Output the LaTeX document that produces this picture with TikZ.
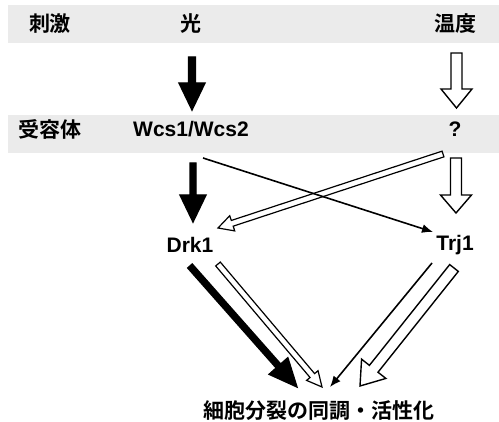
\documentclass[tikz,border=0pt]{standalone}
\usepackage{fontspec}
\setmainfont{Liberation Sans}
\newfontfamily\cjk{Noto Sans CJK JP}[BoldFont={Noto Sans CJK JP Bold}]
\usetikzlibrary{calc,arrows.meta}

\definecolor{bandgray}{RGB}{235,235,235}

% block arrow: [options]{from}{to}{shaft half width}{head half width}{head length}
\newcommand{\blockarrow}[6][]{%
  \coordinate (hb) at ($(#3)!#6!(#2)$);
  \draw[line width=1.4pt, line join=miter, #1]
    ($(#2)!#4!90:(#3)$) -- ($(hb)!#4!90:(#3)$) -- ($(hb)!#5!90:(#3)$) -- (#3)
    -- ($(hb)!#5!-90:(#3)$) -- ($(hb)!#4!-90:(#3)$) -- ($(#2)!#4!-90:(#3)$) -- cycle;
}

\begin{document}
\begin{tikzpicture}[
    x=1pt, y=-1pt,
    lbl/.style={inner sep=0pt, font=\bfseries\fontsize{21}{25}\selectfont},
    jp/.style={inner sep=0pt, font=\cjk\bfseries\fontsize{21}{25}\selectfont},
    thin/.style={line width=1.6pt, -{Latex[length=11pt,width=9pt]}},
    solid/.style={draw=black, fill=black}
]
\useasboundingbox (0,0) rectangle (499,422);

% Bands
\fill[bandgray] (8,5) rectangle (499,43);
\fill[bandgray] (8,115) rectangle (499,153);

% Stimulus row
\node[jp] (stim) at (50,24) {刺激};
\node[jp] (light) at (191,24) {光};
\node[jp] (temp) at (455,24) {温度};

% Receptor row
\node[jp] (rec) at (50,129) {受容体};
\node[lbl] (wcs) at (191,129) {Wcs1/Wcs2};
\node[lbl] (unk) at (455,129) {?};

% Kinases
\node[lbl] (drk) at (190,245) {Drk1};
\node[lbl] (trj) at (455,245) {Trj1};

% Output
\node[jp] (out) at (319,411) {細胞分裂の同調・活性化};

% Arrow ends
\coordinate (l1) at ($(light)+(1,33)$);
\coordinate (l2) at ($(wcs)+(1,-19)$);
\coordinate (t1) at ($(temp)+(1.5,29)$);
\coordinate (t2) at ($(unk)+(1.5,-21)$);
\coordinate (w1) at ($(wcs)+(2,34)$);
\coordinate (w2) at ($(drk)+(3,-23)$);
\coordinate (w3) at ($(wcs)+(12,29)$);
\coordinate (w4) at ($(trj)+(-22,-13)$);
\coordinate (u1) at ($(unk)+(-12,25)$);
\coordinate (u2) at ($(drk)+(28,-17)$);
\coordinate (u3) at ($(unk)+(1,29)$);
\coordinate (u4) at ($(trj)+(1,-32)$);
\coordinate (d1) at ($(drk)+(0,21)$);
\coordinate (d2) at ($(out)+(-22,-24)$);
\coordinate (d3) at ($(drk)+(28,19)$);
\coordinate (d4) at ($(out)+(3,-24)$);
\coordinate (r1) at ($(trj)+(-23,18)$);
\coordinate (r2) at ($(out)+(11,-24)$);
\coordinate (r3) at ($(trj)+(-1,23)$);
\coordinate (r4) at ($(out)+(41,-25)$);

% Connections
\blockarrow[solid]{l1}{l2}{3.5pt}{13pt}{27pt}
\blockarrow{t1}{t2}{5.5pt}{15.5pt}{19pt}
\blockarrow[solid]{w1}{w2}{3pt}{13pt}{27pt}
\draw[thin] (w3) -- (w4);
\blockarrow[line width=1.2pt]{u1}{u2}{3pt}{8pt}{15pt}
\blockarrow{u3}{u4}{5.5pt}{15.5pt}{18pt}
\blockarrow[solid]{d1}{d2}{3pt}{12.5pt}{28pt}
\blockarrow[line width=1.2pt]{d3}{d4}{3pt}{7.5pt}{15pt}
\draw[thin] (r1) -- (r2);
\blockarrow{r3}{r4}{5.5pt}{15.5pt}{22pt}
\end{tikzpicture}
\end{document}
